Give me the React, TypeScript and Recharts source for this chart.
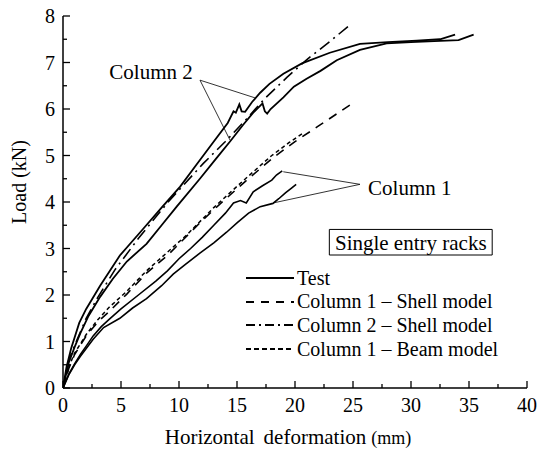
import { LineChart, Line, XAxis, YAxis, Legend, ReferenceLine, ReferenceArea, ReferenceDot, Label } from 'recharts';

const FONT = '"Liberation Serif", "Times New Roman", serif';

const X_TICKS = [0, 2.5, 5, 7.5, 10, 12.5, 15, 17.5, 20, 22.5, 25, 27.5, 30, 32.5, 35, 37.5, 40];
const Y_TICKS = [0, 0.5, 1, 1.5, 2, 2.5, 3, 3.5, 4, 4.5, 5, 5.5, 6, 6.5, 7, 7.5, 8];

// test curves, column 2 (two specimens)
const COL2_TEST_A: [number, number][] = [
  [0, 0], [0.3, 0.45], [0.7, 0.85], [1.4, 1.4], [2, 1.7], [3.2, 2.2], [4.9, 2.85], [6.9, 3.42],
  [8.5, 3.88], [10.1, 4.33], [11.5, 4.8], [13, 5.3], [14.2, 5.7], [14.7, 5.95], [14.9, 5.92],
  [15.2, 6.1], [15.4, 5.95], [15.7, 5.94], [16.3, 6.15], [17, 6.35], [17.8, 6.54], [19, 6.76],
  [20.6, 6.98], [23, 7.21], [25.6, 7.4], [28, 7.44], [30.5, 7.47], [32.5, 7.5], [33.8, 7.6],
];
const COL2_TEST_B: [number, number][] = [
  [0, 0], [0.5, 0.55], [1, 0.88], [1.5, 1.18], [2.2, 1.55], [3.2, 1.96], [4.3, 2.35], [5.5, 2.72],
  [7.2, 3.1], [8.5, 3.5], [9.8, 3.9], [11.8, 4.5], [13.25, 4.95], [14.4, 5.3], [15.5, 5.65],
  [16.4, 5.92], [17.2, 6.12], [17.4, 5.95], [17.6, 5.9], [17.9, 6.0], [19, 6.25], [19.9, 6.48],
  [21, 6.65], [22.2, 6.82], [23.6, 7.05], [25.6, 7.27], [27.9, 7.41], [30, 7.44], [32, 7.46],
  [34.1, 7.48], [35.4, 7.6],
];

// test curves, column 1
const COL1_TEST_A: [number, number][] = [
  [0, 0], [0.5, 0.3], [1, 0.52], [1.5, 0.72], [2, 0.9], [2.6, 1.12], [3.3, 1.32], [4, 1.48],
  [5, 1.7], [6.5, 2.0], [8, 2.3], [9, 2.52], [10, 2.78], [11, 3.0], [12, 3.24], [13, 3.5],
  [14, 3.76], [14.7, 3.98], [15.3, 4.03], [15.8, 3.98], [16.4, 4.22], [17.2, 4.35], [18, 4.47],
  [18.4, 4.58], [18.9, 4.67],
];
const COL1_TEST_B: [number, number][] = [
  [0, 0], [0.5, 0.28], [1, 0.5], [1.5, 0.68], [2, 0.85], [2.6, 1.05], [3.5, 1.3], [4.9, 1.5],
  [6, 1.72], [7.2, 1.92], [8.5, 2.2], [9.5, 2.45], [10.5, 2.65], [11.8, 2.9], [13, 3.12],
  [14.1, 3.35], [15, 3.55], [16, 3.76], [17, 3.9], [18.1, 3.97], [18.6, 4.07], [19.2, 4.2],
  [19.7, 4.3], [20.1, 4.38],
];

// models
const COL1_SHELL: [number, number][] = [
  [0, 0], [0.5, 0.42], [1, 0.72], [2, 1.12], [3, 1.42], [4.05, 1.66], [5.5, 2.02], [7.2, 2.47],
  [9, 2.85], [10.4, 3.2], [12, 3.6], [13.5, 3.95], [15.7, 4.44], [18.1, 4.95], [20, 5.3],
  [22, 5.63], [25, 6.13],
];
const COL2_SHELL: [number, number][] = [
  [0, 0], [0.5, 0.6], [1.2, 1.03], [2, 1.5], [3, 1.95], [4.5, 2.55], [6.6, 3.25], [9.2, 4.04],
  [12.1, 4.83], [14, 5.3], [15.8, 5.78], [17.3, 6.2], [19.3, 6.68], [21.1, 7.08], [23, 7.45],
  [24.7, 7.8],
];
const COL1_BEAM: [number, number][] = [
  [0, 0], [0.5, 0.45], [1, 0.75], [2, 1.15], [3, 1.47], [4, 1.74], [5.5, 2.08], [7.2, 2.52],
  [9, 2.92], [10.7, 3.3], [13, 3.88], [15.5, 4.45], [18, 5.0], [19.5, 5.28], [20.7, 5.48],
];

const SOLID = '';
const DASH_SHELL1 = '9 7';
const DASH_SHELL2 = '12 5 2 5';
const DASH_BEAM = '4 3';

const LEGEND_ITEMS = [
  { label: 'Test', sample: SOLID },
  { label: 'Column 1 \u2013 Shell model', sample: '8 7' },
  { label: 'Column 2 \u2013 Shell model', sample: '9 4 2 4' },
  { label: 'Column 1 \u2013 Beam model', sample: '5 3' },
];

const toRows = (pts: [number, number][]) => pts.map(([x, y]) => ({ x, y }));

const TICK_MARGIN_X = 10;
const TICK_MARGIN_Y = 8;

function XTick(props: any) {
  const { x, y, payload } = props;
  const v = payload.value;
  const major = v % 5 === 0;
  const base = y - TICK_MARGIN_X;
  return (
    <g>
      <line x1={x} x2={x} y1={base} y2={base - (major ? 7 : 4)} stroke="#000" strokeWidth={1.3} />
      {major && (
        <text x={x} y={y} dy="0.71em" textAnchor="middle" fontSize={20} fontFamily={FONT} fill="#000">
          {v}
        </text>
      )}
    </g>
  );
}

function YTick(props: any) {
  const { x, y, payload } = props;
  const v = payload.value;
  const major = Number.isInteger(v);
  const base = x + TICK_MARGIN_Y;
  return (
    <g>
      <line x1={base} x2={base + (major ? 7 : 4)} y1={y} y2={y} stroke="#000" strokeWidth={1.3} />
      {major && (
        <text x={x} y={y} dy="0.35em" textAnchor="end" fontSize={20} fontFamily={FONT} fill="#000">
          {v}
        </text>
      )}
    </g>
  );
}

function XTitle(props: any) {
  const { x, width, y } = props.viewBox;
  return (
    <text x={x + width / 2 - 7} y={y + 56} textAnchor="middle" fontSize={21} fontFamily={FONT} fill="#000">
      Horizontal<tspan dx={9}>deformation</tspan>
      <tspan dx={5} fontSize={18}>(mm)</tspan>
    </text>
  );
}

function YTitle(props: any) {
  const { x, y, height } = props.viewBox;
  const cx = x + 19;
  const cy = y + height / 2 - 20;
  return (
    <text
      x={cx}
      y={cy}
      textAnchor="middle"
      dominantBaseline="central"
      transform={`rotate(-90, ${cx}, ${cy})`}
      fontSize={20}
      fontFamily={FONT}
      fill="#000"
    >
      Load (kN)
    </text>
  );
}

function LegendBox() {
  return (
    <div style={{ fontFamily: FONT, fontSize: 20, color: '#000' }}>
      {LEGEND_ITEMS.map(item => (
        <div key={item.label} style={{ display: 'flex', alignItems: 'center', height: 23.6, whiteSpace: 'nowrap' }}>
          <svg width={50} height={10} style={{ display: 'block' }}>
            <line x1={0} x2={48} y1={5} y2={5} stroke="#000" strokeWidth={1.8} strokeDasharray={item.sample} />
          </svg>
          <span style={{ marginLeft: 1 }}>{item.label}</span>
        </div>
      ))}
    </div>
  );
}

const textStyle = { fill: '#000', fontSize: 21, fontFamily: FONT };

export default function App() {
  return (
    <div style={{ position: 'absolute', left: 0, top: 0, width: 538, height: 449, background: '#fff' }}>
      <LineChart width={538} height={449} margin={{ top: 16, right: 11, left: 0, bottom: 0 }} style={{ fontFamily: FONT }}>
        <XAxis
          dataKey="x"
          type="number"
          domain={[0, 40]}
          ticks={X_TICKS}
          interval={0}
          tickSize={0}
          tickMargin={TICK_MARGIN_X}
          tick={<XTick />}
          tickLine={false}
          axisLine={{ stroke: '#000', strokeWidth: 1.5 }}
          height={61}
          allowDataOverflow
        >
          <Label content={<XTitle />} />
        </XAxis>
        <XAxis xAxisId="top" orientation="top" type="number" domain={[0, 40]} height={0} tick={false} tickLine={false} axisLine={{ stroke: '#000', strokeWidth: 1.5 }} />
        <YAxis
          type="number"
          domain={[0, 8]}
          ticks={Y_TICKS}
          interval={0}
          tickSize={0}
          tickMargin={TICK_MARGIN_Y}
          tick={<YTick />}
          tickLine={false}
          axisLine={{ stroke: '#000', strokeWidth: 1.5 }}
          width={63}
          allowDataOverflow
        >
          <Label content={<YTitle />} />
        </YAxis>
        <YAxis yAxisId="right" orientation="right" type="number" domain={[0, 8]} width={0} tick={false} tickLine={false} axisLine={{ stroke: '#000', strokeWidth: 1.5 }} />

        <ReferenceArea
          x1={22.96}
          x2={37.0}
          y1={2.86}
          y2={3.41}
          fill="#fff"
          fillOpacity={1}
          stroke="#000"
          strokeWidth={1}
          label={{ value: 'Single entry racks', position: 'center', ...textStyle }}
        />

        <Line data={toRows(COL2_TEST_A)} dataKey="y" stroke="#000" strokeWidth={1.8} dot={false} isAnimationActive={false} />
        <Line data={toRows(COL2_TEST_B)} dataKey="y" stroke="#000" strokeWidth={1.8} dot={false} isAnimationActive={false} />
        <Line data={toRows(COL1_TEST_A)} dataKey="y" stroke="#000" strokeWidth={1.6} dot={false} isAnimationActive={false} />
        <Line data={toRows(COL1_TEST_B)} dataKey="y" stroke="#000" strokeWidth={1.6} dot={false} isAnimationActive={false} />
        <Line data={toRows(COL1_SHELL)} dataKey="y" stroke="#000" strokeWidth={1.6} strokeDasharray={DASH_SHELL1} dot={false} isAnimationActive={false} />
        <Line data={toRows(COL2_SHELL)} dataKey="y" stroke="#000" strokeWidth={1.6} strokeDasharray={DASH_SHELL2} dot={false} isAnimationActive={false} />
        <Line data={toRows(COL1_BEAM)} dataKey="y" stroke="#000" strokeWidth={1.5} strokeDasharray={DASH_BEAM} dot={false} isAnimationActive={false} />

        <ReferenceLine segment={[{ x: 11.81, y: 6.62 }, { x: 16.55, y: 6.24 }]} stroke="#000" strokeWidth={0.8} ifOverflow="visible" />
        <ReferenceLine segment={[{ x: 11.81, y: 6.62 }, { x: 14.4, y: 5.33 }]} stroke="#000" strokeWidth={0.8} ifOverflow="visible" />
        <ReferenceLine segment={[{ x: 25.6, y: 4.38 }, { x: 18.99, y: 4.65 }]} stroke="#000" strokeWidth={0.8} ifOverflow="visible" />
        <ReferenceLine segment={[{ x: 25.6, y: 4.38 }, { x: 18.13, y: 3.98 }]} stroke="#000" strokeWidth={0.8} ifOverflow="visible" />

        <ReferenceDot x={7.59} y={6.8} r={0} fill="none" stroke="none" label={{ value: 'Column 2', position: 'center', ...textStyle }} />
        <ReferenceDot x={29.9} y={4.32} r={0} fill="none" stroke="none" label={{ value: 'Column 1', position: 'center', ...textStyle }} />

        <Legend
          layout="vertical"
          align="center"
          verticalAlign="middle"
          content={<LegendBox />}
          wrapperStyle={{ left: 246, top: 266.5, width: 280, height: 96 }}
        />
      </LineChart>
    </div>
  );
}
